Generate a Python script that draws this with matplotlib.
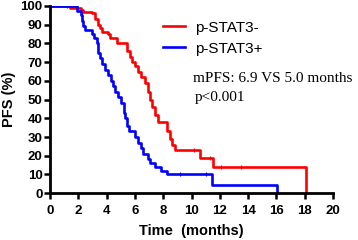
import matplotlib
matplotlib.use('Agg')
import matplotlib.pyplot as plt

# Kaplan-Meier step data (months, PFS %)
neg_t = [0, 1.4, 2.2, 2.35, 2.95, 3.2, 3.4, 3.55, 3.65, 4.1, 4.25, 4.7, 5.45, 5.65, 5.8,
         6.0, 6.2, 6.45, 6.7, 6.9, 7.05, 7.2, 7.45, 7.6, 8.3, 8.45, 8.6, 8.8, 10.6, 11.55, 18.1]
neg_s = [100, 99, 98, 97, 96, 93, 90, 88, 86, 85, 83, 80, 76, 73, 70,
         68, 65, 62, 59, 54, 50, 46, 42, 38, 33, 29, 26, 23, 19, 14, 0]
pos_t = [0, 1.9, 2.15, 2.25, 2.35, 2.5, 2.95, 3.1, 3.3, 3.4, 3.55, 3.65, 3.85, 4.1, 4.3,
         4.45, 4.6, 4.8, 5.0, 5.2, 5.3, 5.45, 5.6, 6.0, 6.2, 6.45, 6.6, 6.9, 7.05, 7.4,
         7.85, 8.3, 11.45, 16.05]
pos_s = [100, 97.5, 95, 92, 89.5, 87, 85, 83, 80, 75, 72, 69, 66, 63, 60,
         57, 54, 51.5, 48, 43, 40, 36, 33, 30, 27, 24, 21, 18.5, 16, 14,
         12, 10, 4.5, 0]

# censored observations
neg_cens_t = [10.2, 11.3, 12.05, 13.5]
neg_cens_s = [23, 19, 14, 14]
pos_cens_t = [1.2, 9.2, 11.0]
pos_cens_s = [100, 10, 10]

labels = ['p-STAT3-', 'p-STAT3+']
colors = ['#ff0000', '#0000ff']

fig = plt.figure(figsize=(3.58, 2.40), dpi=100)
ax = fig.add_axes([0.14, 0.195, 0.79, 0.78])

ax.plot(neg_t, neg_s, drawstyle='steps-post', color=colors[0], lw=1.9, label=labels[0])
ax.plot(pos_t, pos_s, drawstyle='steps-post', color=colors[1], lw=1.9, label=labels[1])
ax.plot(neg_cens_t, neg_cens_s, '|', color=colors[0], ms=3, mew=0.8)
ax.plot(pos_cens_t, pos_cens_s, '|', color=colors[1], ms=3, mew=0.8)

ax.set_xlim(0, 20)
ax.set_ylim(0, 100)
ax.set_xticks(range(0, 21, 2))
ax.set_yticks(range(0, 101, 10))
for s in ['top', 'right']:
    ax.spines[s].set_visible(False)
for s in ['left', 'bottom']:
    ax.spines[s].set_linewidth(2.0)
ax.tick_params(width=1.8, length=4.5, direction='out')
ax.tick_params(axis='x', pad=4)
ax.tick_params(axis='y', pad=1)
for lab in ax.get_xticklabels() + ax.get_yticklabels():
    lab.set_fontfamily('Liberation Sans')
    lab.set_fontweight('bold')
    lab.set_fontsize(9.5)

ax.set_xlabel('Time  (months)', fontfamily='Liberation Sans', fontweight='bold',
              fontsize=10.5, labelpad=5)
ax.set_ylabel('PFS (%)', fontfamily='Liberation Sans', fontweight='bold',
              fontsize=10.5, labelpad=3)

leg = ax.legend(loc='upper left', bbox_to_anchor=(0.35, 0.995), frameon=False,
                handlelength=1.45, handletextpad=0.65, labelspacing=0.45,
                prop={'family': 'Liberation Sans', 'size': 11})

ax.text(0.505, 0.615, 'mPFS: 6.9 VS 5.0 months', transform=ax.transAxes,
        fontfamily='Liberation Serif', fontsize=11, va='center')
ax.text(0.51, 0.512, 'p<0.001', transform=ax.transAxes,
        fontfamily='Liberation Serif', fontsize=11, va='center')

fig.savefig('out.png', dpi=100)
